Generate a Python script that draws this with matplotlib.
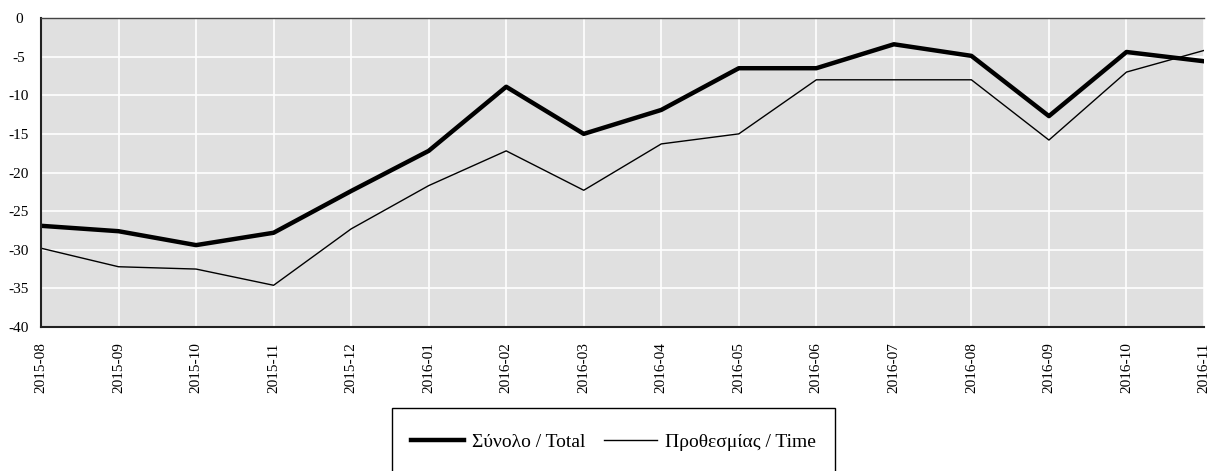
import matplotlib.pyplot as plt
from matplotlib.patches import Rectangle
import numpy as np

plt.rcParams['font.family'] = ['Liberation Serif', 'DejaVu Serif']

months = ["2015-08", "2015-09", "2015-10", "2015-11", "2015-12", "2016-01",
          "2016-02", "2016-03", "2016-04", "2016-05", "2016-06", "2016-07",
          "2016-08", "2016-09", "2016-10", "2016-11"]
total = [-26.9, -27.6, -29.4, -27.8, -22.4, -17.2, -8.9, -15.0, -11.9,
         -6.5, -6.5, -3.4, -4.9, -12.7, -4.4, -5.6]
time_limits = [-29.8, -32.2, -32.5, -34.6, -27.3, -21.7, -17.2, -22.3, -16.3,
               -15.0, -8.0, -8.0, -8.0, -15.8, -7.0, -4.2]

W, H = 1209, 471
fig = plt.figure(figsize=(W / 100, H / 100), dpi=100)
ax = fig.add_axes([41 / W, 1 - 327 / H, (1204 - 41) / W, (327 - 18) / H])

x = np.arange(len(months))
ax.plot(x, total, color="black", lw=3.2, label="Σύνολο / Total")
ax.plot(x, time_limits, color="black", lw=1.0, label="Προθεσμίας / Time")

ax.set_facecolor("#e0e0e0")
ax.set_xlim(0, len(months) - 1)
ax.set_ylim(-40, 0)
ax.set_yticks(np.arange(-40, 1, 5))
ax.set_yticklabels([str(v) for v in range(-40, 1, 5)], ha="center")
ax.set_xticks(x)
ax.set_xticklabels(months, rotation=90)
ax.grid(True, color="white", lw=1.2)
ax.set_axisbelow(True)
ax.tick_params(length=0, labelsize=11)
ax.tick_params(axis="y", pad=16)
ax.tick_params(axis="x", pad=11)

for s in ["left", "bottom"]:
    ax.spines[s].set_color("#222222")
    ax.spines[s].set_linewidth(1.5)
ax.spines["top"].set_color("#444444")
ax.spines["top"].set_linewidth(1.0)
ax.spines["right"].set_visible(False)

# legend box drawn by hand so the padding can differ per side
fig.patches.append(Rectangle((392 / W, -0.01), (835 - 392) / W, 1 - 408 / H + 0.01,
                             transform=fig.transFigure, fill=False,
                             edgecolor="black", lw=1.0))
leg = fig.legend(loc="center", bbox_to_anchor=(613.5 / W, 1 - 442 / H),
                 ncol=2, frameon=False, fontsize=14, handlelength=2.7,
                 handletextpad=0.4, columnspacing=1.0, borderpad=0)

fig.savefig("out.png", dpi=100)
